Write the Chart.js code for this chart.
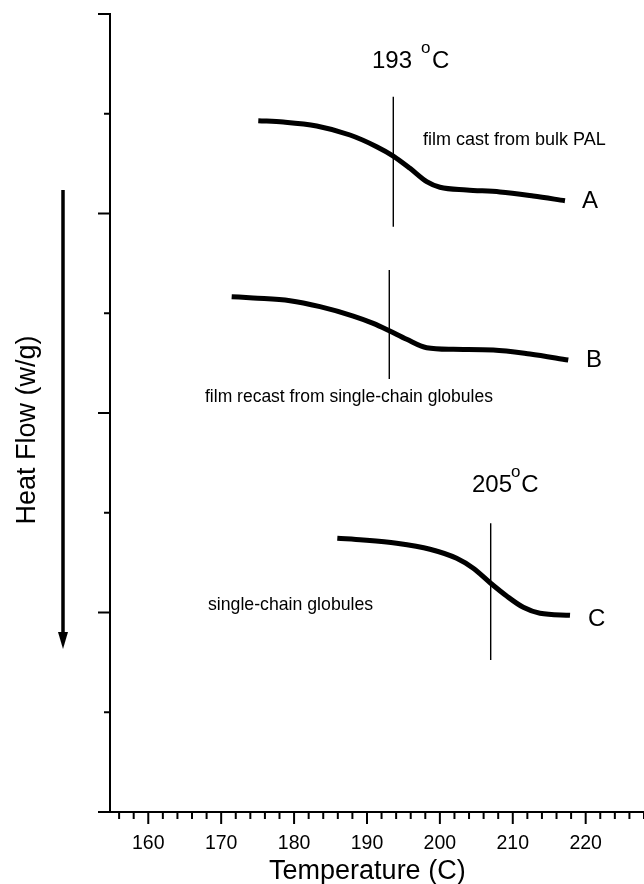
<!DOCTYPE html>
<html>
<head>
<meta charset="utf-8">
<title>DSC - Heat Flow</title>
<script src="https://cdn.jsdelivr.net/npm/chart.js@4.4.0/dist/chart.umd.min.js"></script>
<style>
  html, body { margin: 0; padding: 0; background: #fff; }
  canvas { display: block; }
</style>
</head>
<body>
<canvas id="grafico" width="644" height="884"></canvas>
<script>
const tempA = [175.09, 178.52, 183.10, 187.67, 191.33, 193.61, 195.90, 198.19, 200.01, 203.68, 208.24, 212.81, 217.16];
const flujoA = [6.930, 6.917, 6.877, 6.787, 6.670, 6.576, 6.453, 6.319, 6.263, 6.236, 6.216, 6.175, 6.128];

const tempB = [171.44, 174.40, 179.44, 183.55, 188.12, 190.86, 193.06, 195.45, 198.19, 201.84, 207.33, 212.36, 217.61];
const flujoB = [5.166, 5.153, 5.126, 5.066, 4.972, 4.899, 4.825, 4.739, 4.655, 4.639, 4.632, 4.591, 4.531];

const tempC = [185.93, 189.49, 194.07, 198.64, 202.30, 204.58, 206.97, 209.16, 211.44, 213.73, 217.85];
const flujoC = [2.744, 2.727, 2.694, 2.634, 2.543, 2.443, 2.293, 2.165, 2.052, 1.992, 1.972];

// marcas verticales de Tg (una por curva)
const tgTemp = [193.61, 193.06, 206.97];
const tgArriba = [7.171, 5.434, 2.894];
const tgAbajo = [5.868, 4.341, 1.524];

// ejes
const tempMin = 154.75;
const tempMax = 228;
const tempPaso = 2;
const tempEtiquetas = [160, 170, 180, 190, 200, 210, 220];
const flujoMin = 0;
const flujoMax = 8;

const FUENTE = "'Liberation Sans', Arial, Helvetica, sans-serif";

function puntos(xs, ys) {
  return xs.map((x, i) => ({ x: x, y: ys[i] }));
}

function curva(xs, ys) {
  return {
    data: puntos(xs, ys),
    borderColor: '#000',
    borderWidth: 5,
    pointRadius: 0,
    cubicInterpolationMode: 'monotone',
    fill: false
  };
}

function lineaTg(i) {
  return {
    data: puntos([tgTemp[i], tgTemp[i]], [tgArriba[i], tgAbajo[i]]),
    borderColor: '#000',
    borderWidth: 1.4,
    pointRadius: 0,
    fill: false
  };
}

// textos sobre el grafico, en coordenadas de datos
const anotaciones = [
  { txt: '193', t: 190.69, v: 7.459, size: 24 },
  { txt: 'o', t: 197.41, v: 7.609, size: 17 },
  { txt: 'C', t: 198.92, v: 7.459, size: 24 },
  { txt: '205', t: 204.40, v: 3.208, size: 24 },
  { txt: 'o', t: 209.75, v: 3.358, size: 17 },
  { txt: 'C', t: 211.15, v: 3.208, size: 24 },
  { txt: 'film cast from bulk PAL', t: 197.68, v: 6.687, size: 18 },
  { txt: 'film recast from single-chain globules', t: 167.78, v: 4.110, size: 17.5 },
  { txt: 'single-chain globules', t: 168.19, v: 2.025, size: 17.7 },
  { txt: 'A', t: 219.49, v: 6.055, size: 24 },
  { txt: 'B', t: 220.04, v: 4.461, size: 24 },
  { txt: 'C', t: 220.31, v: 1.865, size: 24 }
];

const extras = {
  id: 'extras',
  afterDraw(chart) {
    const ctx = chart.ctx;
    const sx = chart.scales.x;
    const sy = chart.scales.y;
    const area = chart.chartArea;
    ctx.save();
    ctx.strokeStyle = '#000';
    ctx.fillStyle = '#000';
    ctx.lineWidth = 2;

    // marcas del eje x (largas cada 10)
    sx.ticks.forEach(tk => {
      const px = sx.getPixelForValue(tk.value);
      const largo = tk.value % 10 === 0 ? 12 : 7;
      ctx.beginPath();
      ctx.moveTo(px, area.bottom);
      ctx.lineTo(px, area.bottom + largo);
      ctx.stroke();
    });

    // marcas del eje y (largas en los pares)
    sy.ticks.forEach(tk => {
      const py = sy.getPixelForValue(tk.value);
      const largo = tk.value % 2 === 0 ? 12 : 6;
      ctx.beginPath();
      ctx.moveTo(area.left - largo, py);
      ctx.lineTo(area.left, py);
      ctx.stroke();
    });

    ctx.textAlign = 'left';
    ctx.textBaseline = 'alphabetic';
    anotaciones.forEach(a => {
      ctx.font = a.size + 'px ' + FUENTE;
      ctx.fillText(a.txt, sx.getPixelForValue(a.t), sy.getPixelForValue(a.v));
    });

    // titulo del eje x
    ctx.font = '27px ' + FUENTE;
    ctx.textAlign = 'center';
    ctx.fillText('Temperature (C)', sx.getPixelForValue(190.05), 879);

    // titulo del eje y, girado
    ctx.save();
    ctx.translate(35, 430);
    ctx.rotate(-Math.PI / 2);
    ctx.font = '27px ' + FUENTE;
    ctx.textAlign = 'center';
    ctx.fillText('Heat Flow (w/g)', 0, 0);
    ctx.restore();

    // flecha hacia abajo
    ctx.lineWidth = 3.5;
    ctx.beginPath();
    ctx.moveTo(63, 190);
    ctx.lineTo(63, 636);
    ctx.stroke();
    ctx.beginPath();
    ctx.moveTo(58, 632);
    ctx.lineTo(68, 632);
    ctx.lineTo(63, 649);
    ctx.closePath();
    ctx.fill();

    ctx.restore();
  }
};

const ctx = document.getElementById('grafico').getContext('2d');
const grafico = new Chart(ctx, {
  type: 'line',
  data: {
    datasets: [
      curva(tempA, flujoA),
      curva(tempB, flujoB),
      curva(tempC, flujoC),
      lineaTg(0),
      lineaTg(1),
      lineaTg(2)
    ]
  },
  options: {
    responsive: false,
    animation: false,
    devicePixelRatio: 1,
    events: [],
    layout: { padding: { top: 14, right: 0, bottom: 0, left: 0 } },
    plugins: {
      legend: { display: false },
      tooltip: { enabled: false }
    },
    scales: {
      x: {
        type: 'linear',
        position: 'bottom',
        min: tempMin,
        max: tempMax,
        border: { display: true, color: '#000', width: 2 },
        grid: { display: false, drawTicks: true, tickLength: 12 },
        ticks: {
          stepSize: tempPaso,
          includeBounds: false,
          autoSkip: false,
          maxRotation: 0,
          color: '#000',
          padding: 8,
          font: { family: FUENTE, size: 19.5 },
          callback: v => tempEtiquetas.includes(v) ? String(v) : ''
        },
        afterFit: s => {
          s.height = 72;
          s.paddingLeft = 0;
          s.paddingRight = 0;
        }
      },
      y: {
        type: 'linear',
        min: flujoMin,
        max: flujoMax,
        border: { display: true, color: '#000', width: 2 },
        grid: { display: false },
        ticks: { display: false, stepSize: 1 },
        afterFit: s => {
          s.width = 110;
          s.paddingTop = 0;
          s.paddingBottom = 0;
        }
      }
    }
  },
  plugins: [extras]
});
</script>
</body>
</html>
